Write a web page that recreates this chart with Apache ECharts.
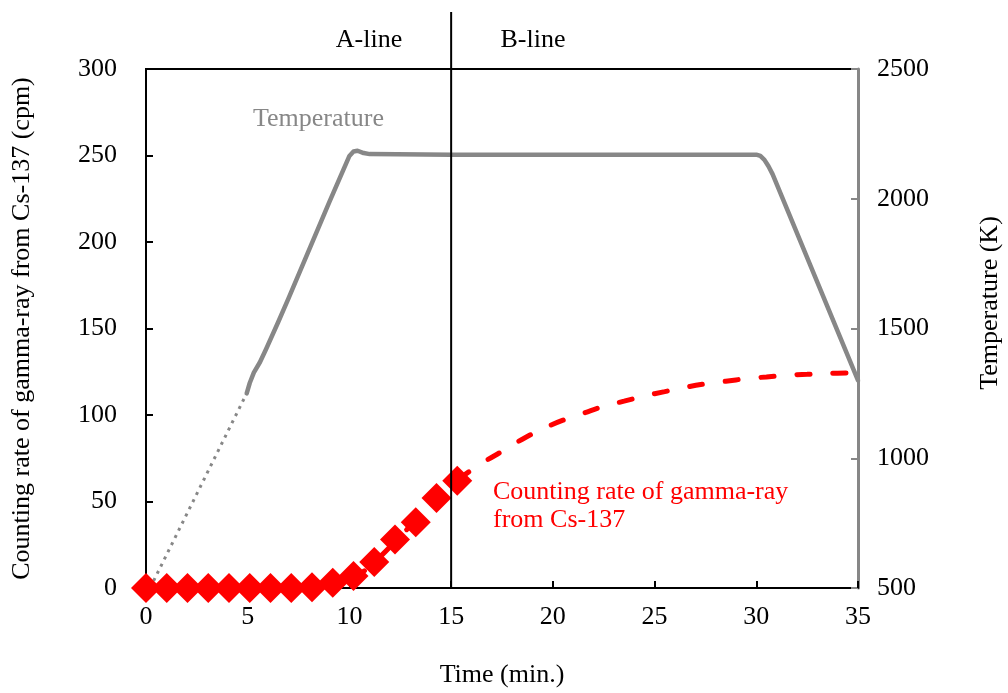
<!DOCTYPE html>
<html>
<head>
<meta charset="utf-8">
<script src="https://cdn.jsdelivr.net/npm/echarts@6/dist/echarts.min.js"></script>
<style>
html,body{margin:0;padding:0;background:#fff;}
#chart{width:1008px;height:693px;}
</style>
</head>
<body>
<div id="chart"></div>
<script>
// ---- data ----
var xTicks = [0, 35, 5];          // min, max, interval (min.)
var yLeftTicks = [0, 300, 50];    // cpm
var yRightTicks = [500, 2500, 500]; // K

// measured counting rate (diamonds)
var countTime = [0, 1.02, 2.04, 3.06, 4.08, 5.1, 6.12, 7.14, 8.16, 9.18, 10.2, 11.22, 12.24, 13.26, 14.28, 15.3];
var countRate = [0, 0, 0, 0, 0, 0, 0, 0, 0.5, 3, 7, 15, 28, 38, 52, 62];

// fitted / extrapolated counting rate (dashed)
var fitTime = [8.5, 9.5, 10.5, 11.5, 12.5, 13.5, 14.5, 15.5, 16.5, 17.5, 18.5, 19.5, 20.5, 21.5, 22.5, 23.5, 24.5, 25.5, 26.5, 27.5, 28.5, 29.5, 30.5, 31.5, 32.5, 33.5, 35];
var fitRate = [0.5, 2.5, 8, 18, 30, 42, 54, 64, 72, 79, 86, 92, 97, 101, 105, 108, 111, 113.5, 116, 118, 119.5, 121, 122, 123, 123.5, 124, 124.5];

// temperature, estimated part (dotted)
var tempDotTime = [0.2, 4.95];
var tempDotK = [500, 1250];

// temperature, measured (solid)
var tempTime = [4.95, 5.1, 5.3, 5.6, 5.9, 6.5, 7, 8, 9, 10, 10.2, 10.4, 10.7, 11, 15, 20, 25, 30, 30.2, 30.4, 30.6, 30.8, 35];
var tempK = [1250, 1290, 1330, 1370, 1420, 1525, 1615, 1800, 1985, 2165, 2182, 2185, 2176, 2172, 2170, 2170, 2170, 2170, 2165, 2150, 2125, 2095, 1300];

// boundary between A-line and B-line
var boundaryTime = 15;
var boundaryRange = [0, 333];

// ---- chart ----
function zip(a, b) { return a.map(function (v, i) { return [v, b[i]]; }); }

var FONT = '"Liberation Serif", "Times New Roman", serif';
var GRAY = '#878787';

var chart = echarts.init(document.getElementById('chart'), null, {renderer: 'canvas'});
chart.setOption({
  animation: false,
  backgroundColor: '#fff',
  grid: {left: 146, right: 150, top: 69, bottom: 102, show: true, borderColor: '#000', borderWidth: 2, backgroundColor: 'transparent'},
  xAxis: {
    type: 'value', min: xTicks[0], max: xTicks[1], interval: xTicks[2],
    name: 'Time (min.)', nameLocation: 'middle', nameGap: 74,
    nameTextStyle: {fontFamily: FONT, fontSize: 26, color: '#000'},
    axisLine: {show: true, lineStyle: {color: '#000', width: 2}},
    axisTick: {show: true, inside: true, length: 7, lineStyle: {color: '#000', width: 2}},
    axisLabel: {fontFamily: FONT, fontSize: 26, color: '#000', margin: 16},
    splitLine: {show: false}
  },
  yAxis: [{
    type: 'value', min: yLeftTicks[0], max: yLeftTicks[1], interval: yLeftTicks[2],
    name: 'Counting rate of gamma-ray from Cs-137 (cpm)', nameLocation: 'middle', nameGap: 111,
    nameTextStyle: {fontFamily: FONT, fontSize: 26, color: '#000'},
    axisLine: {show: true, lineStyle: {color: '#000', width: 2}},
    axisTick: {show: true, inside: true, length: 7, lineStyle: {color: '#000', width: 2}},
    axisLabel: {fontFamily: FONT, fontSize: 26, color: '#000', margin: 29},
    splitLine: {show: false}
  }, {
    type: 'value', position: 'right', min: yRightTicks[0], max: yRightTicks[1], interval: yRightTicks[2],
    axisLine: {show: true, lineStyle: {color: GRAY, width: 3}},
    axisTick: {show: true, inside: true, length: 7, lineStyle: {color: GRAY, width: 2}},
    axisLabel: {fontFamily: FONT, fontSize: 26, color: '#000', margin: 19, formatter: function (v) { return String(v); }},
    splitLine: {show: false}
  }],
  graphic: [
    {type: 'text', x: 369, y: 40, style: {text: 'A-line', font: '26px ' + FONT, fill: '#000', textAlign: 'center', textVerticalAlign: 'middle'}},
    {type: 'text', x: 533, y: 40, style: {text: 'B-line', font: '26px ' + FONT, fill: '#000', textAlign: 'center', textVerticalAlign: 'middle'}},
    {type: 'text', x: 253, y: 119, style: {text: 'Temperature', font: '26px ' + FONT, fill: GRAY, textAlign: 'left', textVerticalAlign: 'middle'}},
    {type: 'text', x: 493, y: 492, style: {text: 'Counting rate of gamma-ray', font: '26px ' + FONT, fill: '#ff0000', textAlign: 'left', textVerticalAlign: 'middle'}},
    {type: 'text', x: 493, y: 520, style: {text: 'from Cs-137', font: '26px ' + FONT, fill: '#ff0000', textAlign: 'left', textVerticalAlign: 'middle'}},
    {type: 'text', x: 990, y: 303, rotation: Math.PI / 2, style: {text: 'Temperature (K)', font: '26px ' + FONT, fill: '#000', textAlign: 'center', textVerticalAlign: 'middle'}}
  ],
  series: [
    {
      type: 'line', yAxisIndex: 1, data: zip(tempDotTime, tempDotK), symbol: 'none', z: 2,
      lineStyle: {color: GRAY, width: 3, type: [3, 5]}
    },
    {
      type: 'line', yAxisIndex: 1, data: zip(tempTime, tempK), symbol: 'none', smooth: false, z: 2,
      lineStyle: {color: GRAY, width: 4.5, cap: 'round', join: 'round'}
    },
    {
      type: 'line', yAxisIndex: 0, data: zip(fitTime, fitRate), symbol: 'none', smooth: 0.4, z: 3,
      lineStyle: {color: '#ff0000', width: 5, type: [13, 23], cap: 'round'}
    },
    {
      type: 'scatter', yAxisIndex: 0, data: zip(countTime, countRate), symbol: 'diamond', symbolSize: 30, z: 4,
      itemStyle: {color: '#ff0000', opacity: 1}
    },
    {
      type: 'line', yAxisIndex: 0, clip: false, silent: true, symbol: 'none', z: 5,
      data: [[boundaryTime, boundaryRange[0]], [boundaryTime, boundaryRange[1]]],
      lineStyle: {color: '#000', width: 2}
    }
  ]
});
</script>
</body>
</html>
